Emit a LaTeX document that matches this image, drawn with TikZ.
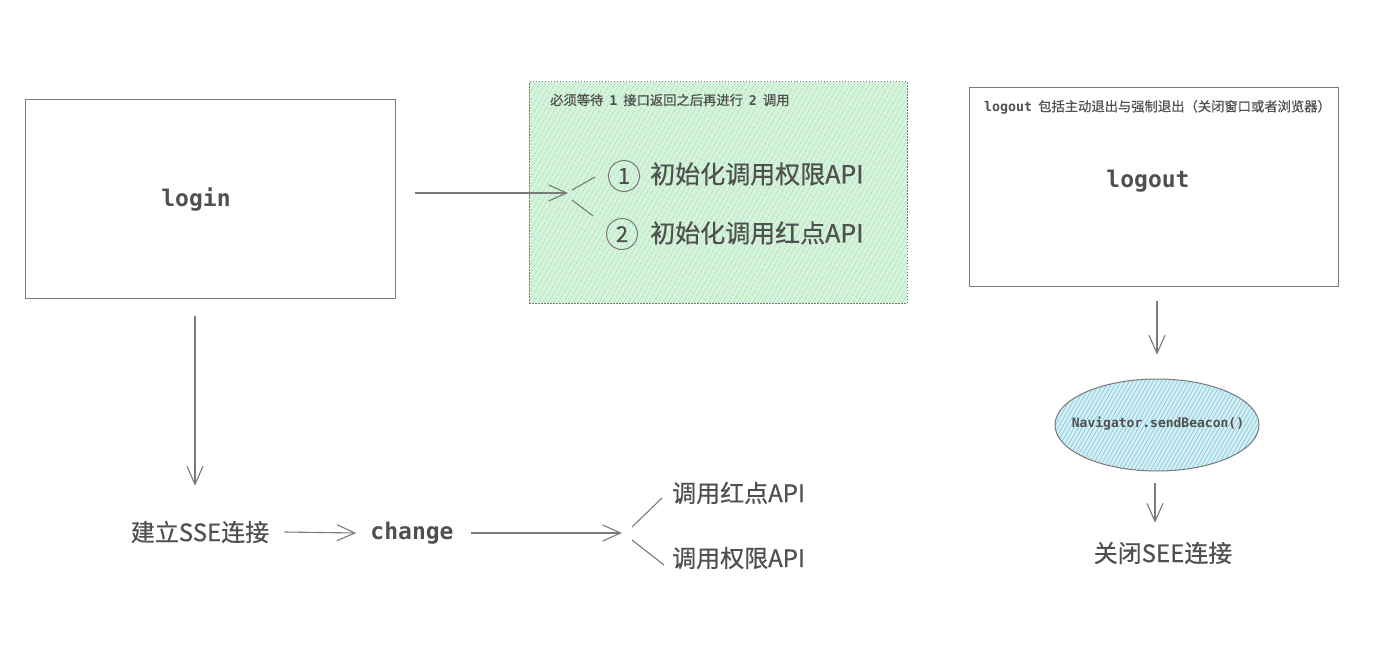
\documentclass[tikz,border=0pt]{standalone}
\usepackage{fontspec}
\newfontfamily\cjk{Noto Sans CJK SC}[FakeBold=0.6]
\newfontfamily\code{DejaVu Sans Mono}
\usetikzlibrary{arrows.meta,shapes.geometric,patterns.meta}
\definecolor{ink}{HTML}{505050}
\definecolor{edge}{HTML}{7A7A7A}
\definecolor{mint}{HTML}{D6F3DB}
\definecolor{mintline}{HTML}{8ED79F}
\definecolor{sky}{HTML}{D4EFF5}
\definecolor{skyline}{HTML}{86CAD8}
\begin{document}
\begin{tikzpicture}[x=1pt, y=-1pt,
        box/.style={draw=edge, line width=1pt, inner sep=0pt},
        word/.style={text=ink, inner sep=0pt, font=\cjk\fontsize{24}{28}\selectfont},
        item/.style={text=ink, inner sep=0pt, font=\cjk\fontsize{25}{30}\selectfont},
        mono/.style={text=ink, inner sep=0pt, font=\code\bfseries\fontsize{23}{26}\selectfont},
        note/.style={text=ink, inner sep=0pt, font=\cjk\fontsize{13.3}{15}\selectfont},
        num/.style={circle, draw=edge, line width=1pt, minimum size=31pt, inner sep=0pt, text=ink, font=\cjk\fontsize{22}{22}\selectfont},
        flow/.style={draw=edge, line width=1.1pt, -{Straight Barb[length=18pt, width=16pt]}},
        fork/.style={draw=edge, line width=1.1pt}]
        \useasboundingbox (0, 0) rectangle (1375, 650);

        \node[style=box, minimum width=370pt, minimum height=198pt] (login) at (210, 199) {};
        \node[style=mono] (logintxt) at (196, 200) {login};

        \node[style=box, dash pattern=on 1.5pt off 1.5pt, preaction={fill=mint},
            pattern={Lines[angle=60, distance=4pt, line width=0.7pt]}, pattern color=mintline,
            minimum width=378pt, minimum height=221pt] (wait) at (718, 192.5) {};
        \node[style=note, anchor=west] (waitnote) at (550, 100) {必须等待\ \ {\code\bfseries 1}\ \ 接口返回之后再进行\ \ {\code\bfseries 2}\ \ 调用};
        \node[style=num] (one) at (624, 176) {1};
        \node[style=num] (two) at (622, 234) {2};
        \node[style=item, anchor=west] (initperm) at (650, 174) {初始化调用权限API};
        \node[style=item, anchor=west] (initdot) at (650, 233) {初始化调用红点API};
        \coordinate (split) at (568, 193);

        \node[style=box, minimum width=369pt, minimum height=198pt] (logout) at (1153.5, 187) {};
        \node[style=note, anchor=west] (logoutnote) at (984, 107) {{\code\bfseries logout}\ \ 包括主动退出与强制退出（关闭窗口或者浏览器）};
        \node[style=mono] (logouttxt) at (1148, 181) {logout};
        \node[ellipse, draw=edge, line width=1pt, minimum width=204pt, minimum height=92pt, inner sep=0pt,
            preaction={fill=sky}, pattern={Lines[angle=60, distance=3.5pt, line width=0.7pt]},
            pattern color=skyline] (beacon) at (1157, 425) {};
        \node[text=ink, inner sep=0pt, font=\code\bfseries\fontsize{13}{15}\selectfont] (beacontxt) at (1158, 424) {Navigator.sendBeacon()};
        \node[style=word] (close) at (1163, 553) {关闭SEE连接};

        \node[style=word] (sse) at (200, 532) {建立SSE连接};
        \node[style=mono] (change) at (412, 533) {change};
        \coordinate (split2) at (622, 533);
        \node[style=word, anchor=west] (calldot) at (672, 493) {调用红点API};
        \node[style=word, anchor=west] (callperm) at (672, 558) {调用权限API};

        \draw[style=flow] ([shift={(19, -6)}]login.east) -- (split);
        \draw[style=fork] ([shift={(4, -3)}]split) -- ([shift={(-13, 1)}]one.west);
        \draw[style=fork] ([shift={(4, 7)}]split) -- ([shift={(-13, -18)}]two.west);

        \draw[style=flow] ([shift={(-15, 17)}]login.south) -- ([shift={(-5, -35)}]sse.north);
        \draw[style=flow] ([xshift=15pt]sse.east) -- ([xshift=-14pt]change.west);
        \draw[style=flow] ([xshift=17pt]change.east) -- (split2);
        \draw[style=fork] ([shift={(10, -6)}]split2) -- ([shift={(-10, 5)}]calldot.west);
        \draw[style=fork] ([shift={(10, 7)}]split2) -- ([shift={(-8, 7)}]callperm.west);

        \draw[style=flow] ([shift={(3.5, 14)}]logout.south) -- ([shift={(0, -24)}]beacon.north);
        \draw[style=flow] ([shift={(-2, 12)}]beacon.south) -- ([shift={(-8, -19)}]close.north);
    \end{tikzpicture}
\end{document}
